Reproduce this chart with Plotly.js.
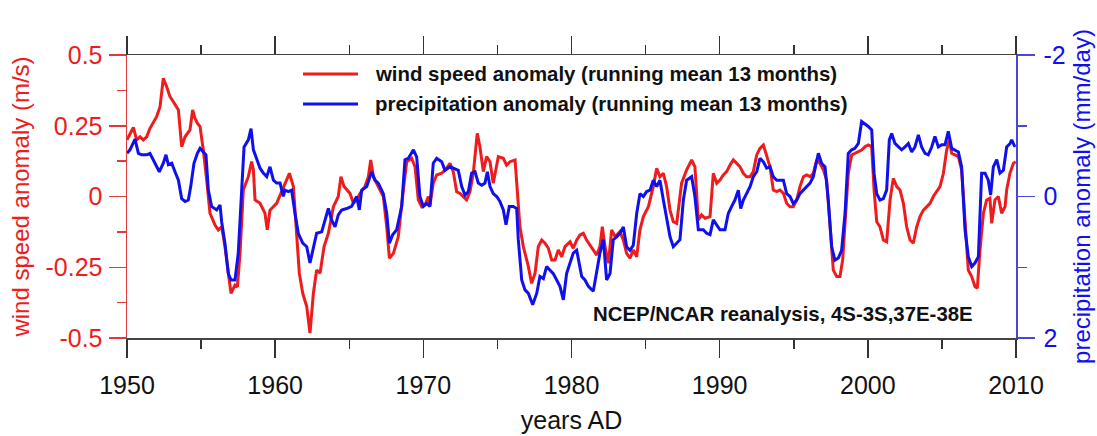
<!DOCTYPE html>
<html>
<head>
<meta charset="utf-8">
<script src="https://cdn.plot.ly/plotly-3.0.1.min.js"></script>
<style>
  html, body { margin: 0; padding: 0; background: #ffffff; }
  #chart { width: 1097px; height: 436px; }
</style>
</head>
<body>
<div id="chart"></div>
<script>
// Wind speed anomaly (m/s), 13-month running mean
const windYears = [
  1950.00,1950.43,1950.65,1950.88,1951.10,1951.33,1951.55,1951.78,1952.00,1952.23,
  1952.45,1952.68,1952.90,1953.13,1953.47,1953.69,1953.92,1954.25,1954.43,1954.59,
  1954.75,1954.93,1955.15,1955.38,1955.60,1955.94,1956.16,1956.39,1956.61,1956.84,
  1957.02,1957.29,1957.45,1957.63,1957.85,1958.19,1958.41,1958.53,1958.64,1958.98,
  1959.31,1959.47,1959.65,1960.10,1960.55,1960.96,1961.23,1961.41,1961.63,1961.86,
  1962.13,1962.35,1962.58,1962.80,1963.03,1963.30,1963.59,1963.93,1964.26,1964.44,
  1964.65,1965.05,1965.28,1965.50,1965.73,1966.06,1966.29,1966.45,1966.63,1966.96,
  1967.30,1967.53,1967.71,1967.98,1968.31,1968.65,1968.88,1969.21,1969.44,1969.66,
  1969.89,1970.11,1970.34,1970.45,1970.67,1970.90,1971.24,1971.57,1971.80,1972.02,
  1972.25,1972.47,1972.70,1972.92,1973.15,1973.37,1973.64,1973.82,1974.05,1974.27,
  1974.50,1974.72,1975.06,1975.40,1975.62,1975.85,1976.19,1976.34,1976.52,1976.75,
  1977.09,1977.31,1977.54,1977.76,1977.99,1978.21,1978.44,1978.66,1978.89,1979.11,
  1979.34,1979.56,1979.90,1980.12,1980.35,1980.57,1980.80,1981.02,1981.36,1981.70,
  1981.92,1982.08,1982.26,1982.49,1982.71,1982.94,1983.27,1983.50,1983.72,1983.95,
  1984.17,1984.40,1984.62,1984.85,1985.19,1985.52,1985.75,1985.97,1986.20,1986.42,
  1986.65,1986.87,1987.10,1987.43,1987.77,1988.11,1988.33,1988.56,1988.78,1989.01,
  1989.35,1989.57,1989.80,1990.02,1990.25,1990.47,1990.70,1990.92,1991.15,1991.37,
  1991.60,1991.82,1992.05,1992.27,1992.50,1992.72,1992.95,1993.17,1993.40,1993.62,
  1993.85,1994.07,1994.30,1994.52,1994.75,1994.97,1995.20,1995.42,1995.65,1995.87,
  1996.10,1996.32,1996.55,1996.77,1997.00,1997.22,1997.45,1997.67,1997.90,1998.12,
  1998.30,1998.46,1998.68,1998.91,1999.13,1999.36,1999.58,1999.81,2000.03,2000.26,
  2000.42,2000.60,2000.82,2001.05,2001.27,2001.50,2001.72,2001.95,2002.17,2002.40,
  2002.62,2002.85,2003.07,2003.30,2003.52,2003.75,2003.97,2004.20,2004.42,2004.65,
  2004.87,2005.10,2005.32,2005.50,2005.66,2005.88,2006.11,2006.33,2006.56,2006.78,
  2007.01,2007.23,2007.39,2007.57,2007.80,2008.02,2008.24,2008.36,2008.58,2008.81,
  2009.03,2009.26,2009.37,2009.59,2009.82,2009.98
];
const windAnomaly = [
  0.200,0.244,0.200,0.211,0.200,0.211,0.241,0.264,0.282,0.317,
  0.418,0.388,0.353,0.335,0.306,0.176,0.211,0.235,0.306,0.276,
  0.259,0.247,0.164,0.058,-0.059,-0.101,-0.118,-0.107,-0.177,-0.271,
  -0.342,-0.313,-0.319,-0.201,0.023,0.070,0.123,0.094,-0.012,-0.024,
  -0.059,-0.118,-0.048,-0.024,0.035,0.082,0.035,-0.107,-0.271,-0.342,
  -0.389,-0.483,-0.342,-0.260,-0.271,-0.177,-0.130,-0.036,0.000,0.070,
  0.035,0.011,-0.024,-0.012,0.011,0.035,0.070,0.129,0.070,0.035,
  0.000,-0.107,-0.218,-0.201,-0.142,0.023,0.123,0.135,0.105,-0.012,
  -0.036,-0.030,0.000,-0.030,0.047,0.076,0.082,0.100,0.117,0.088,
  0.017,0.011,0.000,-0.012,0.017,0.082,0.223,0.176,0.088,0.141,
  0.123,0.047,0.141,0.135,0.111,0.123,0.129,0.023,-0.107,-0.177,
  -0.248,-0.307,-0.271,-0.177,-0.154,-0.165,-0.183,-0.224,-0.224,-0.189,
  -0.213,-0.177,-0.160,-0.183,-0.154,-0.136,-0.130,-0.154,-0.183,-0.207,
  -0.177,-0.107,-0.177,-0.236,-0.118,-0.142,-0.124,-0.154,-0.201,-0.218,
  -0.189,-0.213,-0.118,-0.071,-0.036,0.035,0.100,0.070,0.082,0.035,
  -0.048,-0.089,-0.095,0.047,0.094,0.129,0.105,-0.083,-0.065,-0.077,
  -0.071,0.082,0.047,0.058,0.076,0.088,0.111,0.129,0.117,0.105,
  0.082,0.070,0.070,0.088,0.147,0.170,0.182,0.147,0.105,0.023,
  0.017,0.023,0.011,-0.024,-0.036,-0.036,-0.012,0.035,0.070,0.076,
  0.070,0.082,0.129,0.117,0.094,0.058,-0.107,-0.260,-0.283,-0.283,
  -0.224,-0.083,0.082,0.147,0.153,0.159,0.164,0.176,0.182,0.176,
  0.023,-0.089,-0.107,-0.154,-0.160,-0.012,0.064,0.035,0.023,-0.024,
  -0.107,-0.154,-0.165,-0.107,-0.071,-0.048,-0.036,-0.024,0.000,0.017,
  0.035,0.082,0.164,0.200,0.153,0.147,0.141,0.094,-0.095,-0.260,
  -0.283,-0.318,-0.324,-0.189,-0.059,-0.012,-0.006,-0.095,-0.012,0.000,
  -0.059,-0.036,0.023,0.082,0.117,0.123
];

// Precipitation anomaly (mm/day), 13-month running mean, on a reversed right axis
const precipYears = [
  1950.00,1950.20,1950.54,1950.77,1950.99,1951.33,1951.55,1951.78,1952.18,1952.45,
  1952.63,1952.79,1953.02,1953.24,1953.47,1953.69,1953.92,1954.14,1954.30,1954.52,
  1954.75,1954.93,1955.15,1955.33,1955.49,1955.71,1956.05,1956.28,1956.39,1956.61,
  1956.84,1957.02,1957.29,1957.51,1957.74,1957.90,1958.19,1958.37,1958.53,1958.75,
  1958.98,1959.20,1959.43,1959.65,1959.88,1960.10,1960.33,1960.55,1960.66,1960.89,
  1961.11,1961.34,1961.56,1961.86,1962.13,1962.35,1962.58,1962.80,1963.14,1963.36,
  1963.59,1963.81,1964.04,1964.26,1964.49,1964.83,1965.16,1965.50,1965.68,1965.84,
  1966.18,1966.51,1966.74,1966.96,1967.30,1967.53,1967.71,1967.93,1968.20,1968.54,
  1968.76,1968.99,1969.33,1969.55,1969.77,1970.00,1970.22,1970.45,1970.67,1970.90,
  1971.24,1971.46,1971.80,1972.02,1972.36,1972.59,1972.81,1973.04,1973.26,1973.49,
  1973.71,1973.94,1974.16,1974.32,1974.50,1974.72,1974.95,1975.17,1975.40,1975.58,
  1975.80,1976.07,1976.30,1976.41,1976.64,1976.86,1977.09,1977.38,1977.65,1977.87,
  1978.10,1978.32,1978.55,1978.77,1979.00,1979.22,1979.45,1979.67,1979.90,1980.12,
  1980.35,1980.69,1980.91,1981.14,1981.47,1981.70,1981.92,1982.15,1982.37,1982.60,
  1982.82,1983.05,1983.27,1983.50,1983.72,1983.95,1984.17,1984.40,1984.62,1984.85,
  1985.07,1985.30,1985.52,1985.75,1985.97,1986.20,1986.42,1986.65,1986.87,1987.10,
  1987.32,1987.55,1987.77,1988.11,1988.33,1988.56,1988.90,1989.12,1989.35,1989.57,
  1989.80,1990.02,1990.36,1990.58,1990.81,1991.03,1991.26,1991.42,1991.60,1991.82,
  1992.05,1992.27,1992.50,1992.72,1992.95,1993.17,1993.40,1993.62,1993.85,1994.07,
  1994.30,1994.52,1994.75,1994.97,1995.20,1995.42,1995.65,1995.87,1996.10,1996.32,
  1996.66,1996.88,1997.11,1997.33,1997.56,1997.78,1998.01,1998.23,1998.46,1998.68,
  1998.91,1999.13,1999.36,1999.58,1999.81,2000.03,2000.26,2000.42,2000.60,2000.82,
  2001.05,2001.27,2001.45,2001.61,2001.83,2002.06,2002.28,2002.51,2002.73,2002.96,
  2003.18,2003.41,2003.63,2003.86,2004.08,2004.31,2004.53,2004.76,2004.98,2005.21,
  2005.43,2005.66,2005.88,2006.11,2006.33,2006.56,2006.78,2007.01,2007.23,2007.46,
  2007.68,2007.91,2008.13,2008.29,2008.47,2008.70,2008.92,2009.15,2009.37,2009.60,
  2009.71,2009.93
];
const precipAnomaly = [
  -0.61,-0.66,-0.81,-0.61,-0.59,-0.59,-0.61,-0.52,-0.35,-0.47,
  -0.59,-0.45,-0.47,-0.35,-0.23,0.03,0.07,0.05,-0.14,-0.47,
  -0.61,-0.68,-0.63,-0.59,-0.09,0.14,0.19,0.12,0.36,0.66,
  1.09,1.18,1.18,0.80,-0.09,-0.70,-0.80,-0.96,-0.66,-0.52,
  -0.40,-0.33,-0.28,-0.42,-0.23,-0.19,-0.19,0.00,-0.09,-0.07,
  -0.09,0.24,0.52,0.66,0.71,0.94,0.71,0.52,0.50,0.33,
  0.17,0.33,0.43,0.26,0.19,0.17,0.14,0.00,0.19,-0.09,
  -0.14,-0.35,-0.23,-0.19,-0.04,0.24,0.66,0.54,0.47,0.14,
  -0.52,-0.54,-0.66,-0.56,0.00,0.14,0.10,0.14,-0.47,-0.54,
  -0.49,-0.37,-0.42,-0.40,-0.37,-0.14,-0.02,-0.07,-0.33,-0.35,
  -0.19,-0.16,-0.19,-0.35,-0.14,-0.04,0.00,0.07,0.19,0.40,
  0.14,0.14,0.17,0.61,1.18,1.32,1.37,1.53,1.37,1.13,
  1.16,0.99,1.04,1.09,1.18,1.27,1.46,1.09,0.94,0.80,
  0.76,1.13,1.18,1.27,1.34,1.09,0.80,0.61,1.18,1.09,
  0.61,0.57,0.52,0.43,0.71,0.76,0.69,0.24,-0.04,0.00,
  -0.07,-0.09,-0.23,-0.14,-0.23,0.05,0.29,0.57,0.71,0.66,
  0.61,0.05,-0.23,-0.28,0.00,0.47,0.47,0.52,0.54,0.33,
  0.40,0.47,0.47,0.24,0.14,0.05,-0.09,0.17,0.05,-0.04,
  -0.14,-0.28,-0.35,-0.54,-0.49,-0.40,-0.42,-0.28,-0.23,-0.23,
  -0.23,-0.04,0.00,0.10,0.05,-0.04,-0.09,-0.14,-0.19,-0.28,
  -0.61,-0.47,-0.42,0.05,0.71,0.90,0.87,0.76,0.24,-0.61,
  -0.66,-0.68,-0.75,-1.06,-1.03,-0.99,-0.94,-0.33,-0.04,0.05,
  0.03,-0.09,-0.80,-0.89,-0.75,-0.70,-0.66,-0.70,-0.75,-0.63,
  -0.70,-0.87,-0.70,-0.61,-0.59,-0.70,-0.85,-0.70,-0.73,-0.73,
  -0.92,-0.68,-0.66,-0.63,-0.42,0.47,0.85,0.99,0.94,0.85,
  -0.33,-0.33,-0.23,-0.02,-0.42,-0.52,-0.33,-0.37,-0.70,-0.75,
  -0.80,-0.70
];

const xTickVals = [1950, 1960, 1970, 1980, 1990, 2000, 2010];
const xTickText = ['1950', '1960', '1970', '1980', '1990', '2000', '2010'];
const windTickVals = [-0.5, -0.25, 0, 0.25, 0.5];
const windTickText = ['-0.5', '-0.25', '0', '0.25', '0.5'];
const precipTickVals = [-2, 0, 2];
const precipTickText = ['-2', '0', '2'];

const windLabel = 'wind speed anomaly (running mean 13 months)';
const precipLabel = 'precipitation anomaly (running mean 13 months)';
const sourceNote = 'NCEP/NCAR reanalysis, 4S-3S,37E-38E';

const RED = '#ee1c1c';
const BLUE = '#1010ee';
const FONT = 'Liberation Sans, Arial, Helvetica, sans-serif';

// Plot area geometry in pixels, used to place the hand-drawn key and note
const PLOT_LEFT = 127, PLOT_W = 889, PLOT_BOTTOM = 338, PLOT_H = 283;
const px = x => (x - PLOT_LEFT) / PLOT_W;
const py = y => (PLOT_BOTTOM - y) / PLOT_H;

const traces = [
  {
    x: windYears, y: windAnomaly, type: 'scatter', mode: 'lines',
    name: windLabel, yaxis: 'y',
    line: { color: RED, width: 3 }
  },
  {
    x: precipYears, y: precipAnomaly, type: 'scatter', mode: 'lines',
    name: precipLabel, yaxis: 'y2',
    line: { color: BLUE, width: 3 }
  }
];

const layout = {
  width: 1097, height: 436,
  margin: { l: 127, r: 81, t: 55, b: 98 },
  paper_bgcolor: '#ffffff', plot_bgcolor: '#ffffff',
  showlegend: false,
  font: { family: FONT, size: 24, color: '#111111' },
  xaxis: {
    range: [1950, 2010], tickmode: 'array', tickvals: xTickVals, ticktext: xTickText,
    ticks: 'outside', ticklen: 18, tickwidth: 1.5, tickcolor: '#333333',
    minor: { dtick: 5, ticks: 'outside', ticklen: 9, tickwidth: 1.5, tickcolor: '#333333', showgrid: false },
    showline: true, linecolor: '#444444', linewidth: 1.5, mirror: 'ticks',
    showgrid: false, zeroline: false, automargin: false,
    tickfont: { family: FONT, size: 25, color: '#111111' },
    ticklabelstandoff: 6,
    title: { text: 'years AD', font: { family: FONT, size: 25, color: '#111111' }, standoff: 14 }
  },
  yaxis: {
    range: [-0.5, 0.5], tickmode: 'array', tickvals: windTickVals, ticktext: windTickText,
    ticks: 'outside', ticklen: 17, tickwidth: 1.5, tickcolor: '#e03a3a',
    minor: { dtick: 0.125, ticks: 'outside', ticklen: 9, tickwidth: 1.5, tickcolor: '#e03a3a', showgrid: false },
    showline: true, linecolor: '#e03a3a', linewidth: 1.5,
    showgrid: false, zeroline: false, automargin: false,
    tickfont: { family: FONT, size: 25, color: RED },
    ticklabelstandoff: 1,
    title: { text: 'wind speed anomaly (m/s)', font: { family: FONT, size: 24, color: RED }, standoff: 9 }
  },
  yaxis2: {
    overlaying: 'y', side: 'right',
    range: [2, -2], tickmode: 'array', tickvals: precipTickVals, ticktext: precipTickText,
    ticks: 'outside', ticklen: 17, tickwidth: 1.5, tickcolor: '#4848d8',
    minor: { dtick: 1, ticks: 'outside', ticklen: 9, tickwidth: 1.5, tickcolor: '#4848d8', showgrid: false },
    showline: true, linecolor: '#4848d8', linewidth: 1.5,
    showgrid: false, zeroline: false, automargin: false,
    tickfont: { family: FONT, size: 25, color: BLUE },
    ticklabelstandoff: 4,
    title: { text: 'precipitation anomaly (mm/day)', font: { family: FONT, size: 24, color: BLUE }, standoff: 8 }
  },
  shapes: [
    { type: 'line', xref: 'paper', yref: 'paper', x0: px(303), x1: px(358),
      y0: py(74), y1: py(74), line: { color: RED, width: 3 } },
    { type: 'line', xref: 'paper', yref: 'paper', x0: px(303), x1: px(358),
      y0: py(104), y1: py(104), line: { color: BLUE, width: 3 } }
  ],
  annotations: [
    { xref: 'paper', yref: 'paper', x: px(373), y: py(74),
      xanchor: 'left', yanchor: 'middle', showarrow: false,
      text: '<b>' + windLabel + '</b>', font: { family: FONT, size: 20.4, color: '#111111' } },
    { xref: 'paper', yref: 'paper', x: px(373), y: py(104),
      xanchor: 'left', yanchor: 'middle', showarrow: false,
      text: '<b>' + precipLabel + '</b>', font: { family: FONT, size: 20.4, color: '#111111' } },
    { xref: 'paper', yref: 'paper', x: px(591), y: py(314),
      xanchor: 'left', yanchor: 'middle', showarrow: false,
      text: '<b>' + sourceNote + '</b>', font: { family: FONT, size: 20.4, color: '#111111' } }
  ]
};

Plotly.newPlot('chart', traces, layout, { displayModeBar: false, staticPlot: true });
</script>
</body>
</html>
